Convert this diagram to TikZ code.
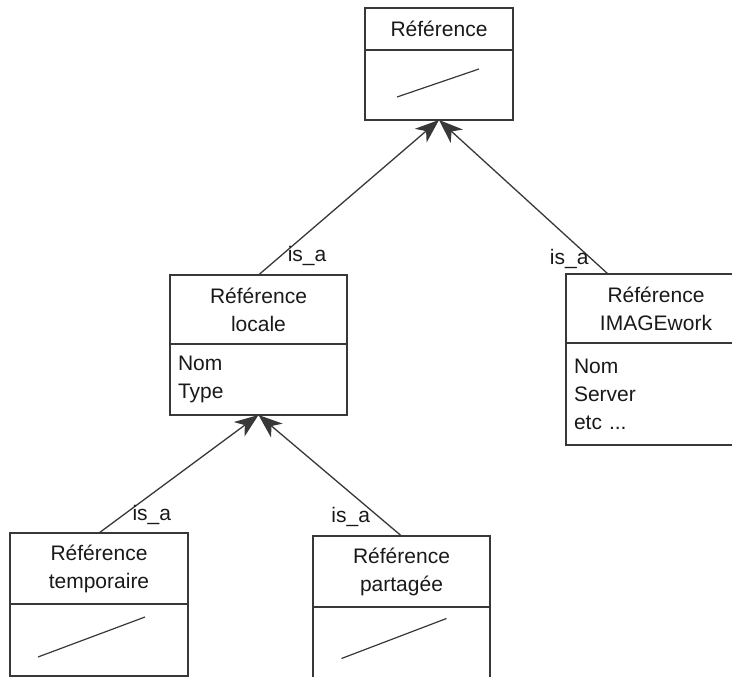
\documentclass[tikz,border=0pt]{standalone}
\usepackage{fontspec}
\setmainfont{Liberation Sans}
\usetikzlibrary{positioning,calc,arrows.meta}
\definecolor{linegray}{gray}{0.22}
\definecolor{textgray}{gray}{0.1}
\newcommand{\classfont}{\fontsize{21}{28}\selectfont}

\begin{document}
\begin{tikzpicture}[x=1pt,y=-1pt,
  classname/.style={draw=linegray, line width=1.5pt, outer sep=0pt, inner sep=0pt,
    align=center, text=textgray, font=\classfont},
  classbody/.style={draw=linegray, line width=1.5pt, outer sep=0pt, inner xsep=8pt,
    inner ysep=0pt, align=left, text=textgray, font=\classfont},
  isa/.style={draw=linegray, line width=1.3pt, -{Stealth[length=24pt,width=18pt,inset=7pt]}},
  isalabel/.style={font=\classfont, text=textgray, inner sep=2pt},
  slash/.style={draw=linegray, line width=1.2pt}]
  \clip (0,0) rectangle (732,677);

  % classes
  \node[classname, minimum width=148pt, minimum height=42pt, anchor=north west] (ref) at (365,8) {Référence};
  \node[classbody, minimum width=148pt, minimum height=70pt, below=0pt of ref] (refbody) {};

  \node[classname, minimum width=177pt, minimum height=69pt, anchor=north west] (loc) at (170,275) {Référence\\locale};
  \node[classbody, text width=161pt, minimum height=71pt, below=0pt of loc] (locbody) {Nom\\Type};

  \node[classname, minimum width=180pt, minimum height=69pt, anchor=north west] (imw) at (566,274) {Référence\\IMAGEwork};
  \node[classbody, text width=164pt, minimum height=102pt, below=0pt of imw] (imwbody) {Nom\\Server\\etc ...};

  \node[classname, minimum width=178pt, minimum height=71pt, anchor=north west] (tmp) at (10,533) {Référence\\temporaire};
  \node[classbody, minimum width=178pt, minimum height=72pt, below=0pt of tmp] (tmpbody) {};

  \node[classname, minimum width=177pt, minimum height=71pt, anchor=north west] (shr) at (313,536) {Référence\\partagée};
  \node[classbody, minimum width=177pt, minimum height=73pt, below=0pt of shr] (shrbody) {};

  % empty attribute marks
  \draw[slash] ($(refbody.center)+(-42,12)$) -- ($(refbody.center)+(40,-16)$);
  \draw[slash] ($(tmpbody.center)+(-61,17)$) -- ($(tmpbody.center)+(46,-23)$);
  \draw[slash] ($(shrbody.center)+(-60,15)$) -- ($(shrbody.center)+(45,-25)$);

  % inheritance
  \coordinate (imwtop) at ($(imw.north west)+(42,0)$);
  \draw[isa] (loc.north) -- node[isalabel, pos=0.12, anchor=west, xshift=5pt] {is\_a} (refbody.south);
  \draw[isa] (imwtop) -- node[isalabel, pos=0.1, anchor=east] {is\_a} (refbody.south);
  \draw[isa] (tmp.north) -- node[isalabel, pos=0.15, anchor=west, xshift=7pt] {is\_a} (locbody.south);
  \draw[isa] (shr.north) -- node[isalabel, pos=0.16, anchor=east, xshift=-6pt] {is\_a} (locbody.south);
\end{tikzpicture}
\end{document}
